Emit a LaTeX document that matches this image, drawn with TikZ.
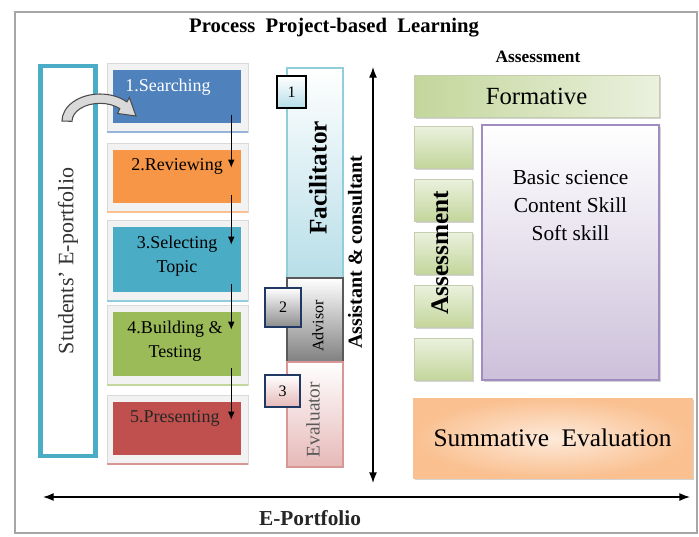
\documentclass[tikz,border=0pt]{standalone}
\usepackage{fontspec}
\setmainfont{Liberation Serif}
\usepackage{tikz}
\usetikzlibrary{calc}
\usetikzlibrary{positioning}
\usetikzlibrary{shadows}
\usetikzlibrary{arrows.meta}
\definecolor{stepblue}{HTML}{4F81BD}
\definecolor{steporange}{HTML}{F79646}
\definecolor{stepteal}{HTML}{4BACC6}
\definecolor{stepgreen}{HTML}{9BBB59}
\definecolor{stepred}{HTML}{C0504D}
\definecolor{faclight}{HTML}{B7DEE8}
\definecolor{facedge}{HTML}{92CDDC}
\definecolor{evalpink}{HTML}{E6B9B8}
\definecolor{evaledge}{HTML}{D99694}
\definecolor{navyedge}{HTML}{1F3864}
\definecolor{greenlight}{HTML}{EBF1DE}
\definecolor{greendark}{HTML}{C3D69B}
\definecolor{purpleedge}{HTML}{9F8CC0}
\definecolor{purplelight}{HTML}{CCC0DA}
\definecolor{orangelight}{HTML}{FDEADA}
\definecolor{orangedark}{HTML}{FAC090}

\begin{document}
\begin{tikzpicture}[x=0.75pt, y=-0.75pt,
     stepframe/.style={rectangle, fill=black!5, draw=black!15, minimum width=141*0.75pt, inner sep=0pt},
     stepbox/.style={rectangle, minimum width=128*0.75pt, inner sep=0pt},
     steptext/.style={font=\fontsize{13.5}{18}\selectfont, align=center, inner sep=0pt},
     rolebox/.style={rectangle, minimum width=56*0.75pt, inner sep=0pt, outer sep=0pt, line width=0.8pt},
     numbox/.style={rectangle, line width=1.3pt, inner sep=0pt, font=\fontsize{12}{12}\selectfont},
     greenbox/.style={rectangle, top color=greenlight, bottom color=greendark, draw=greendark!80!black!60, inner sep=0pt,
         drop shadow={shadow xshift=1.5pt, shadow yshift=-1.5pt, opacity=0.35}},
     bigarrow/.style={line width=1pt, {Latex[length=8pt,width=6pt]}-{Latex[length=8pt,width=6pt]}},
     steparrow/.style={line width=0.8pt, -{Latex[length=6pt,width=5pt]}}
 ]
 \useasboundingbox (0,0) rectangle (699,536);
 % outer frame
 \draw[black!35, line width=1.2pt] (15,12) rectangle (697,533);

 \node[font=\bfseries\fontsize{15.5}{18}\selectfont] (title) at (334,28) {Process~~Project-based~~Learning};
 \node[font=\bfseries\fontsize{13}{15}\selectfont] (asstitle) at (538,57) {Assessment};

 % students' portfolio
 \node[rectangle, draw=stepteal, line width=3.5pt, minimum width=55*0.75pt, minimum height=390*0.75pt] (port) at (68,261) {};
 \node[rotate=90, font=\fontsize{16.5}{18}\selectfont, text=black!80] at (port.center) {Students' E-portfolio};

 % process steps
 \foreach \cy/\h/\fillc/\txtc/\dx/\txt [count=\i] in {
     96.5/53/stepblue/white/-9/{1.Searching},
     176.5/53/steporange/black/0/{2.Reviewing},
     259.5/65/stepteal/black/0/{3.Selecting\\Topic},
     344/64/stepgreen/black/-2/{4.Building \&\\Testing},
     428.5/53/stepred/black!85/0/{5.Presenting}
 }{
     \node[stepframe, minimum height=(\h+16)*0.75pt] (f\i) at (177.5,\cy+1) {};
     \draw[\fillc!60, line width=1.5pt] (f\i.south west) -- (f\i.south east);
     \node[stepbox, fill=\fillc, minimum height=\h*0.75pt] (s\i) at (177,\cy) {};
     \node[steptext, text=\txtc, anchor=north] at ($(s\i.north)+(\dx,9)$) {\txt};
 }
 \foreach \i [evaluate=\i as \j using int(\i+1)] in {1,...,4}
     \draw[steparrow] ($(s\i.south east)+(-10,-8)$) -- ($(s\j.north east)+(-10,18)$);

 % curved arrow into the first step
 \draw[black!70, fill=black!15, line width=0.8pt]
     (62,121) arc[start angle=180, end angle=315, x radius=38, y radius=27]
     -- (129.4,97.5) -- (136,116) -- (117.6,113.5) -- (119.8,108.6)
     arc[start angle=315, end angle=180, x radius=28, y radius=18] -- cycle;

 % roles
 \node[rolebox, top color=white, bottom color=faclight, draw=facedge, minimum height=210*0.75pt] (fac) at (315,173) {};
 \node[rolebox, top color=white, bottom color=black!50, draw=black!65, minimum height=84*0.75pt, below=0pt of fac] (adv) {};
 \node[rolebox, top color=white, bottom color=evalpink, draw=evaledge, minimum height=105*0.75pt, below=0pt of adv] (eva) {};
 \node[rotate=90, font=\bfseries\fontsize{19}{20}\selectfont] at ($(fac.center)+(3,5)$) {Facilitator};
 \node[rotate=90, font=\fontsize{12}{14}\selectfont] at ($(adv.center)+(3,6)$) {Advisor};
 \node[rotate=90, font=\fontsize{14.5}{16}\selectfont, text=black!65] at ($(eva.center)+(-2,5)$) {Evaluator};

 \node[numbox, draw=black, top color=white, bottom color=faclight, minimum width=29*0.75pt, minimum height=32*0.75pt] (n1) at (291.5,92) {1};
 \node[numbox, draw=navyedge, top color=white, bottom color=black!45, minimum width=36*0.75pt, minimum height=39*0.75pt] (n2) at (283,307.5) {2};
 \node[numbox, draw=navyedge, top color=white, bottom color=evalpink, minimum width=35*0.75pt, minimum height=32*0.75pt] (n3) at (282.5,391) {3};

 \node[rotate=90, font=\bfseries\fontsize{15}{16}\selectfont] (assist) at (355,252) {Assistant \& consultant};

 % axes
 \coordinate (vtop) at (373,67);
 \coordinate (vbot) at (373,483);
 \coordinate (hleft) at (43,497);
 \coordinate (hright) at (690,497);
 \draw[bigarrow] (vtop) -- (vbot);
 \draw[bigarrow] (hleft) -- (hright);
 \node[font=\bfseries\fontsize{16}{18}\selectfont, text=black!85] (eport) at (310,518) {E-Portfolio};

 % assessment
 \node[rectangle, left color=greendark, right color=greenlight, draw=greendark!80!black!60, minimum width=245*0.75pt, minimum height=42*0.75pt,
     drop shadow={shadow xshift=1.5pt, shadow yshift=-1.5pt, opacity=0.35}, font=\fontsize{18.5}{20}\selectfont] (form) at (536.5,96) {Formative};
 \foreach \x in {1,...,5}
     \node[greenbox, minimum width=58*0.75pt, minimum height=42*0.75pt] (q\x) at (443,147+53*\x-53) {};
 \node[rotate=90, font=\bfseries\fontsize{19}{20}\selectfont] (assv) at (440,253) {Assessment};

 \node[rectangle, top color=white, bottom color=purplelight, draw=purpleedge, line width=0.8pt, minimum width=177*0.75pt, minimum height=255*0.75pt,
     drop shadow={shadow xshift=1.5pt, shadow yshift=-1.5pt, opacity=0.35}] (skills) at (570.5,252.5) {};
 \node[anchor=north, align=center, font=\fontsize{16}{21}\selectfont, inner sep=0pt] at ($(skills.north)+(0,46)$) {Basic science\\Content Skill\\Soft skill};

 \node[rectangle, shading=radial, inner color=orangelight, outer color=orangedark, draw=orangedark, minimum width=279*0.75pt, minimum height=80*0.75pt,
     drop shadow={shadow xshift=1.5pt, shadow yshift=-1.5pt, opacity=0.35}, font=\fontsize{19}{20}\selectfont] (summ) at (552.5,438) {Summative~~Evaluation};
\end{tikzpicture}
\end{document}
